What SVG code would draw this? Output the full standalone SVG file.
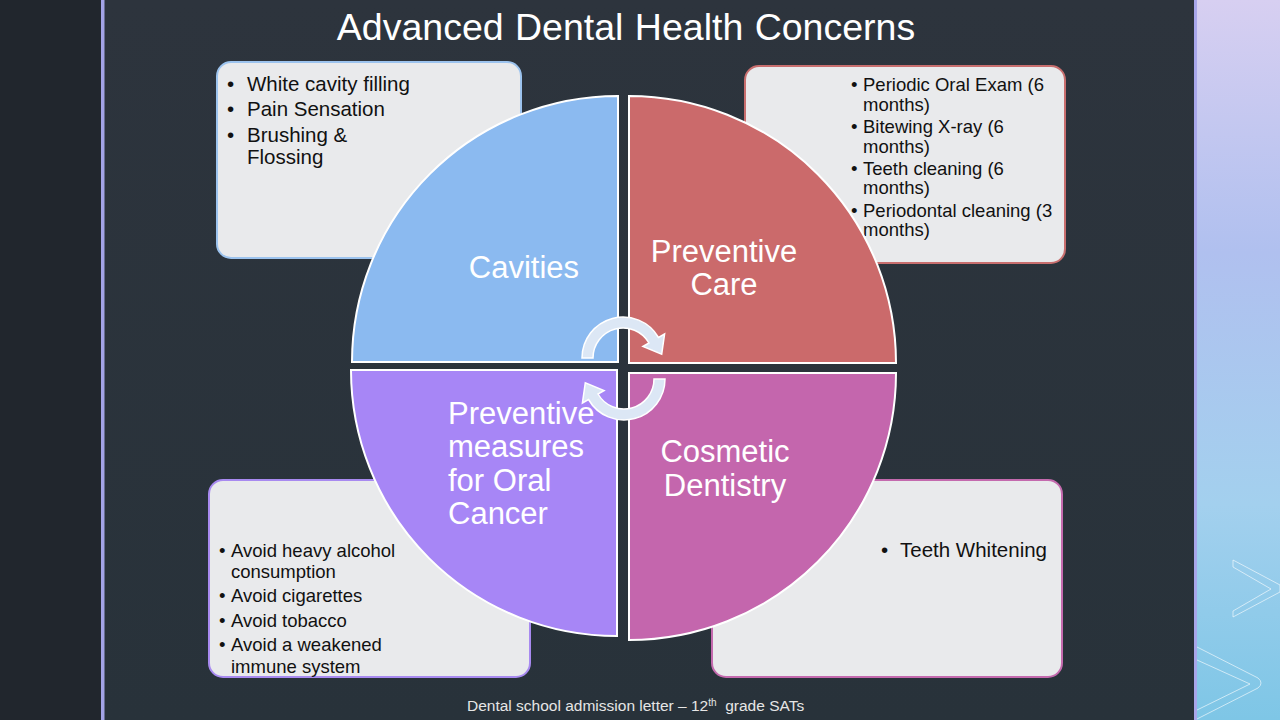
<svg xmlns="http://www.w3.org/2000/svg" width="1280" height="720" viewBox="0 0 1280 720">
<defs>
<linearGradient id="bgMain" x1="0" y1="0" x2="0" y2="1">
<stop offset="0" stop-color="#2d343d"/>
<stop offset="1" stop-color="#28323a"/>
</linearGradient>
<linearGradient id="bgRight" x1="0" y1="0" x2="0" y2="1">
<stop offset="0" stop-color="#d7cff1"/>
<stop offset="0.35" stop-color="#b0c0ef"/>
<stop offset="0.7" stop-color="#a3d0ee"/>
<stop offset="1" stop-color="#7ec6e6"/>
</linearGradient>
<style>
.box{fill:#e9eaec;stroke-width:2}
.quad{stroke:#ffffff;stroke-width:2}
.qt{font-family:"Liberation Sans",Arial,sans-serif;font-size:31px;fill:#ffffff}
.bt{font-family:"Liberation Sans",Arial,sans-serif;fill:#111111}
.arr{fill:#dce7f5;stroke:#ffffff;stroke-width:1.5}
.chev{fill:none;stroke:#ffffff;stroke-opacity:0.6;stroke-width:1}
</style>
</defs>
<rect x="0" y="0" width="1280" height="720" fill="url(#bgMain)"/>
<rect x="0" y="0" width="101" height="720" fill="#21262d"/>
<rect x="101" y="0" width="3.5" height="720" fill="#a3a3e6"/>
<rect x="1194" y="0" width="86" height="720" fill="url(#bgRight)"/>
<rect x="1194" y="0" width="3" height="720" fill="#a8a6ea"/>
<path class="chev" d="M1233,560 L1280,585 L1280,592 L1233,617 L1233,611 L1271,589 L1233,567 Z"/>
<path class="chev" d="M1197,647 L1258,678 Q1264,683 1258,688 L1197,719 M1197,660 L1250,684 L1197,710"/>

<text x="626" y="40" text-anchor="middle" font-family="'Liberation Sans',Arial,sans-serif" font-size="37.5" word-spacing="1" fill="#ffffff">Advanced Dental Health Concerns</text>

<g id="box-cavities">
<rect class="box" x="217" y="62" width="304" height="196" rx="14" stroke="#9cc3ee"/>
<text class="bt" font-size="20.5"><tspan x="227" y="91">•</tspan><tspan x="247" y="91">White cavity filling</tspan><tspan x="227" y="116">•</tspan><tspan x="247" y="116">Pain Sensation</tspan><tspan x="227" y="142">•</tspan><tspan x="247" y="142">Brushing &amp;</tspan><tspan x="247" y="164">Flossing</tspan></text>
</g>
<g id="box-preventive-care">
<rect class="box" x="745" y="66" width="320" height="197" rx="14" stroke="#c86e6e"/>
<text class="bt" font-size="18.5"><tspan x="851" y="91">•</tspan><tspan x="863" y="91">Periodic Oral Exam (6</tspan><tspan x="863" y="111">months)</tspan><tspan x="851" y="133">•</tspan><tspan x="863" y="133">Bitewing X-ray (6</tspan><tspan x="863" y="153">months)</tspan><tspan x="851" y="175">•</tspan><tspan x="863" y="175">Teeth cleaning (6</tspan><tspan x="863" y="194">months)</tspan><tspan x="851" y="217">•</tspan><tspan x="863" y="217">Periodontal cleaning (3</tspan><tspan x="863" y="236">months)</tspan></text>
</g>
<g id="box-oral-cancer">
<rect class="box" x="209" y="480" width="321" height="197" rx="14" stroke="#a88af0"/>
<text class="bt" font-size="18.5"><tspan x="219" y="557">•</tspan><tspan x="231" y="557">Avoid heavy alcohol</tspan><tspan x="231" y="578">consumption</tspan><tspan x="219" y="602">•</tspan><tspan x="231" y="602">Avoid cigarettes</tspan><tspan x="219" y="627">•</tspan><tspan x="231" y="627">Avoid tobacco</tspan><tspan x="219" y="651">•</tspan><tspan x="231" y="651">Avoid a weakened</tspan><tspan x="231" y="673">immune system</tspan></text>
</g>
<g id="box-cosmetic">
<rect class="box" x="712" y="480" width="350" height="197" rx="14" stroke="#c46aae"/>
<text class="bt" font-size="20.5"><tspan x="881" y="557">•</tspan><tspan x="900" y="557">Teeth Whitening</tspan></text>
</g>

<g id="node-cavities">
<path class="quad" fill="#8bbaf0" d="M618,362 L352,362 A266,266 0 0 1 618,96 Z"/>
<text class="qt" x="524" y="278" text-anchor="middle">Cavities</text>
</g>
<g id="node-preventive-care">
<path class="quad" fill="#cb6a6b" d="M629,363 L629,96 A267,267 0 0 1 896,363 Z"/>
<text class="qt" text-anchor="middle"><tspan x="724" y="262">Preventive</tspan><tspan x="724" y="295">Care</tspan></text>
</g>
<g id="node-oral-cancer">
<path class="quad" fill="#a786f6" d="M617,370 L617,636 A266,266 0 0 1 351,370 Z"/>
<text class="qt"><tspan x="448" y="424">Preventive</tspan><tspan x="448" y="457">measures</tspan><tspan x="448" y="491">for Oral</tspan><tspan x="448" y="524">Cancer</tspan></text>
</g>
<g id="node-cosmetic">
<path class="quad" fill="#c466ad" d="M629,373 L896,373 A267,267 0 0 1 629,640 Z"/>
<text class="qt" text-anchor="middle"><tspan x="725" y="462">Cosmetic</tspan><tspan x="725" y="496">Dentistry</tspan></text>
</g>

<g id="connectors">
<path class="arr" d="M582,358 A41,41 0 0 1 658.5,337.5 L664.6,334 L661.7,354.1 L642.9,346.5 L649,343 A30,30 0 0 0 593,358 Z"/>
<path class="arr" d="M665,379 A41,41 0 0 1 588.5,399.5 L582.4,403 L585.3,382.9 L604.1,390.5 L598,394 A30,30 0 0 0 654,379 Z"/>
</g>

<text x="467" y="711" font-family="'Liberation Sans',Arial,sans-serif" font-size="15.5" fill="#e6e6e6">Dental school admission letter – 12<tspan font-size="10" dy="-5">th</tspan><tspan dy="5">&#160; grade SATs</tspan></text>
</svg>
